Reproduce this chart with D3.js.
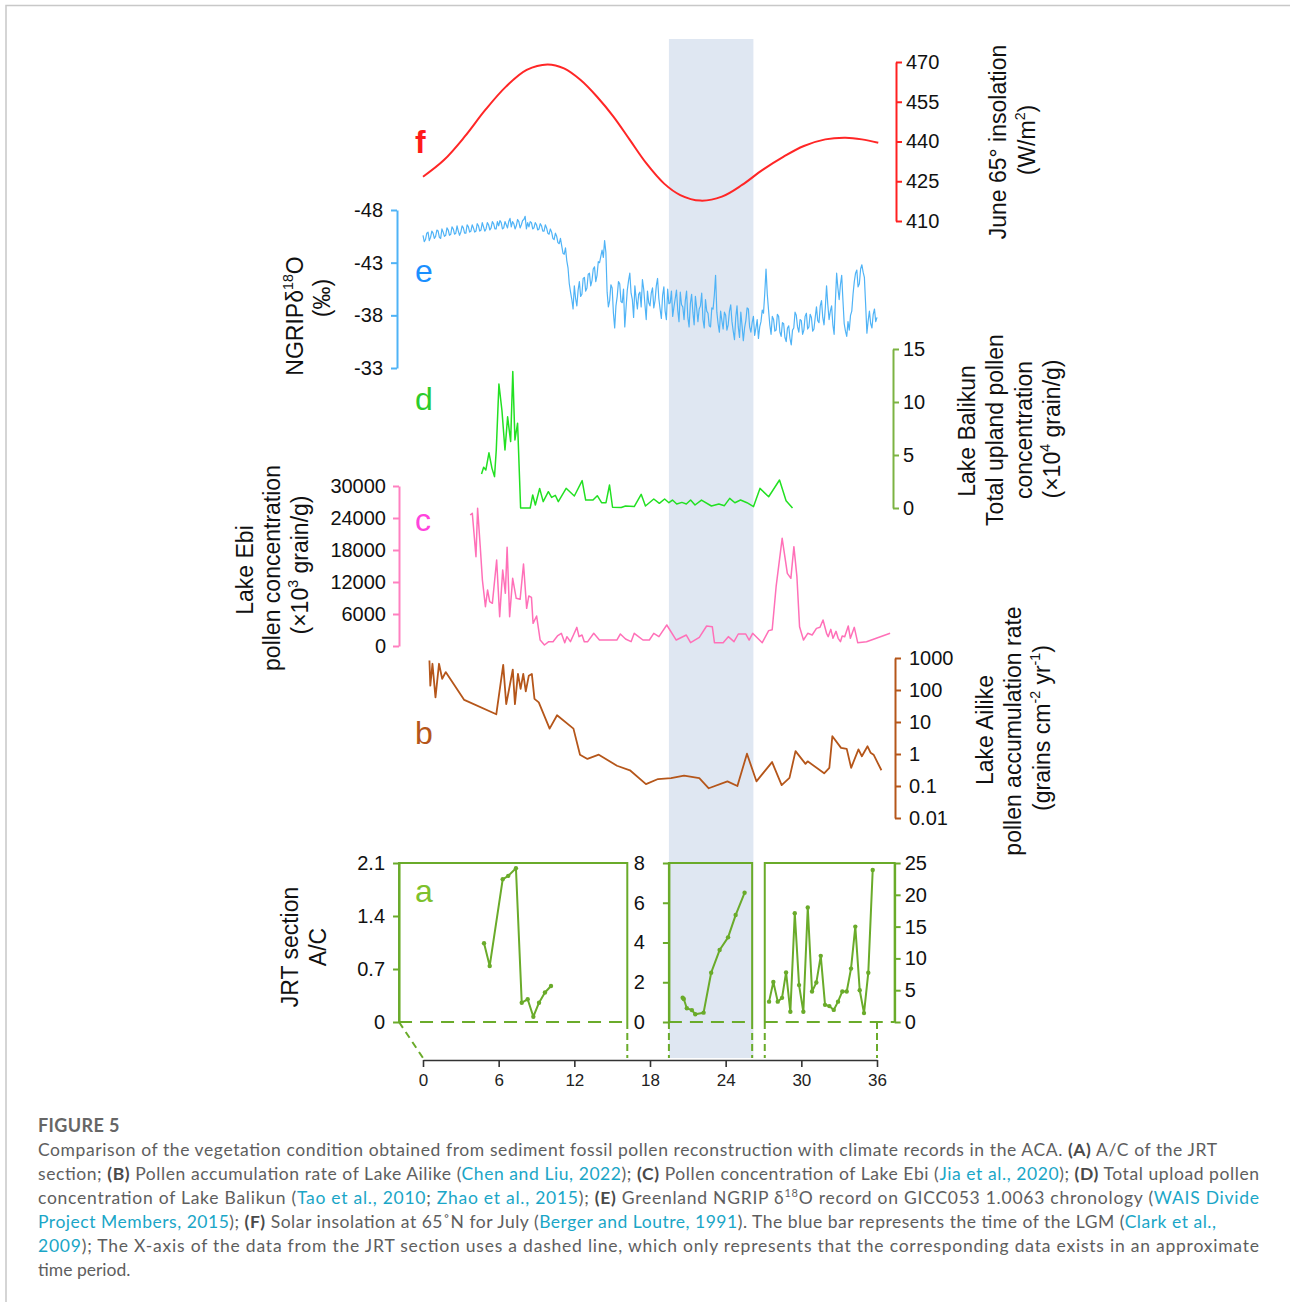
<!DOCTYPE html>
<html>
<head>
<meta charset="utf-8">
<script src="https://cdn.jsdelivr.net/npm/d3@7"></script>
<style>
    body { margin: 0; background: #fff; }
    svg text { font-family: "Liberation Sans", Arial, sans-serif; }
</style>
</head>
<body>
<script>

// ---- values (age in ka BP) ----
let xTicks = [0, 6, 12, 18, 24, 30, 36];
let lgmAge = [19.5, 26.2];

// (f) June 65N insolation, W/m2
let insolAge = [0, 1.66, 3.3, 4.94, 6.58, 8.22, 9.87, 11.18, 12.5, 13.8, 15.1, 16.4, 17.7, 19.1, 20.4, 22.0, 23.7, 25.3, 26.9, 28.6, 30.2, 31.9, 33.5, 34.8, 36.1];
let insolVal = [426.7, 433.0, 441.8, 451.9, 460.7, 467.0, 469.1, 467.6, 463.2, 456.9, 449.4, 440.6, 431.8, 424.2, 419.8, 417.7, 419.2, 423.6, 429.2, 434.3, 438.3, 440.8, 441.4, 440.8, 439.5];
let insolTicks = [410, 425, 440, 455, 470];

// (e) NGRIP d18O, one value every 0.1 ka from 0 ka (one row per ka)
let ngripStep = 0.1;
let ngripVal = [
    -45.6, -45.0, -45.2, -45.8, -45.9, -45.1, -45.4, -46.0, -45.8, -45.3,
    -45.5, -46.1, -46.0, -45.4, -45.3, -46.2, -45.9, -45.5, -45.6, -46.3,
    -46.1, -45.6, -45.7, -46.4, -46.2, -45.7, -45.8, -46.5, -46.0, -45.6,
    -45.9, -46.5, -46.3, -45.8, -45.8, -46.6, -46.4, -45.9, -46.0, -46.6,
    -46.3, -45.9, -46.0, -46.7, -46.5, -46.0, -46.1, -46.8, -46.4, -46.0,
    -46.2, -46.8, -46.6, -46.1, -46.3, -46.9, -46.7, -46.2, -46.2, -46.9,
    -46.5, -47.0, -46.8, -46.2, -46.3, -46.9, -46.6, -46.3, -46.9, -47.2,
    -46.4, -46.9, -46.7, -46.2, -46.5, -47.1, -46.9, -46.3, -46.6, -47.0,
    -47.1, -47.4, -46.2, -46.8, -46.4, -46.9, -46.8, -46.2, -46.3, -46.8,
    -46.6, -46.1, -46.2, -46.7, -46.5, -46.0, -46.0, -46.6, -46.3, -45.8,
    -45.7, -46.2, -45.9, -45.3, -45.2, -45.8, -45.5, -44.9, -44.8, -45.3,
    -44.6, -43.9, -43.8, -44.4, -43.2, -42.5, -41.0, -40.2, -39.5, -38.6,
    -40.8, -39.6, -38.9, -40.4, -41.2, -39.8, -40.0, -41.5, -41.6, -40.3,
    -40.6, -41.9, -42.0, -40.8, -41.3, -42.4, -42.6, -41.2, -41.8, -43.1,
    -43.0, -43.6, -44.2, -43.5, -45.1, -44.0, -40.2, -38.8, -39.4, -40.9,
    -40.6, -38.2, -36.8, -38.9, -39.8, -41.2, -41.0, -39.3, -39.2, -40.5,
    -36.9, -38.7, -40.4, -41.3, -42.0, -40.1, -39.5, -37.8, -40.8, -39.6,
    -38.6, -40.0, -40.2, -38.8, -41.4, -40.5, -39.0, -37.6, -40.3, -39.2,
    -38.9, -40.1, -40.6, -38.7, -39.4, -40.8, -41.5, -39.6, -38.6, -37.7,
    -39.9, -40.7, -38.4, -37.6, -40.5, -39.1, -39.2, -40.3, -37.9, -38.8,
    -39.6, -40.4, -38.5, -37.4, -40.2, -39.0, -38.8, -37.6, -39.4, -40.3,
    -37.8, -36.9, -39.1, -40.0, -38.3, -37.1, -39.8, -38.7, -37.4, -38.6,
    -38.9, -40.1, -37.6, -36.8, -39.5, -38.4, -38.2, -37.0, -36.9, -38.7,
    -38.6, -39.9, -41.8, -38.3, -37.2, -36.4, -38.4, -37.5, -36.7, -38.3,
    -38.0, -36.6, -37.1, -38.4, -39.0, -37.4, -36.5, -35.7, -37.8, -38.9,
    -36.9, -35.9, -38.3, -37.0, -35.6, -36.8, -37.5, -38.7, -38.6, -36.9,
    -36.4, -37.3, -37.9, -36.1, -36.8, -37.6, -35.8, -36.9, -37.4, -38.5,
    -38.2, -40.1, -42.4, -40.0, -38.5, -37.1, -36.2, -37.9, -37.6, -36.5,
    -36.6, -38.1, -37.9, -36.4, -36.0, -37.3, -37.2, -35.9, -35.5, -36.8,
    -37.0, -35.8, -35.2, -36.6, -36.8, -38.3, -38.0, -36.9, -36.4, -37.6,
    -37.5, -36.2, -36.6, -37.9, -38.2, -36.7, -36.9, -38.1, -37.8, -36.5,
    -36.7, -37.8, -38.8, -37.5, -37.3, -38.9, -39.4, -37.8, -37.1, -38.7,
    -40.8, -39.0, -37.6, -38.4, -38.9, -37.1, -36.2, -39.3, -42.0, -40.6,
    -39.5, -40.9, -41.8, -39.4, -37.2, -36.5, -36.0, -37.4, -36.6, -38.0,
    -38.4, -40.0, -41.2, -42.0, -42.3, -40.7, -41.0, -42.4, -42.8, -42.1,
    -41.6, -39.0, -36.3, -37.5, -38.4, -37.2, -36.8, -38.1, -38.6, -37.4,
    -37.8
];
let ngripTicks = [-48, -43, -38, -33];

// (d) Lake Balikun total upland pollen, x10^4 grain/g
let balikunAge = [4.64, 4.81, 4.98, 5.23, 5.47, 5.67, 5.81, 6.02, 6.26, 6.5, 6.71, 6.95, 7.12, 7.29, 7.5, 7.74, 8.5, 8.7, 8.91, 9.25, 9.53, 9.94, 10.2, 10.49, 10.73, 11.35, 12.0, 12.62, 12.9, 13.48, 13.82, 14.16, 14.51, 14.79, 15.03, 15.72, 16.06, 16.75, 17.3, 17.64, 18.3, 18.74, 19.16, 19.5, 19.78, 20.12, 20.53, 20.88, 21.22, 21.57, 22.08, 22.87, 23.46, 23.9, 24.32, 24.73, 25.18, 25.69, 26.21, 26.72, 27.41, 28.27, 28.79, 29.3];
let balikunVal = [3.2, 3.84, 3.58, 5.21, 3.74, 2.96, 5.47, 11.7, 9.2, 5.47, 8.6, 6.27, 12.87, 6.42, 8.0, 0, 0, 1.23, 0.28, 1.85, 0.6, 1.54, 1.0, 1.2, 0.6, 1.86, 1.13, 2.58, 0.75, 0.75, 1.16, 0.5, 0.5, 2.17, 0.07, 0.04, 0.19, 0.13, 1.29, 0.19, 0.85, 0.44, 0.85, 0.5, 0.75, 0.38, 0.53, 0.38, 0.75, 0.28, 0.75, 0.19, 0.38, 0.22, 0.91, 0.5, 0.75, 0.5, 0.13, 1.85, 1.06, 2.64, 0.69, 0.0];
let balikunTicks = [0, 5, 10, 15];

// (c) Lake Ebi pollen concentration, x10^3 grain/g
let ebiAge = [3.74, 3.91, 4.2, 4.33, 4.54, 4.71, 4.95, 5.12, 5.29, 5.5, 5.84, 6.08, 6.32, 6.53, 6.67, 6.87, 7.11, 7.39, 7.7, 7.97, 8.22, 8.39, 8.6, 8.73, 9.01, 9.29, 9.63, 9.97, 10.31, 10.66, 10.97, 11.24, 11.41, 11.69, 11.93, 12.2, 12.37, 12.61, 12.79, 13.06, 13.54, 13.99, 14.67, 15.37, 15.65, 16.06, 16.5, 16.75, 17.09, 17.44, 17.95, 18.3, 18.71, 19.33, 20.08, 20.88, 21.22, 21.91, 22.49, 22.94, 23.11, 23.8, 24.21, 24.66, 25.0, 25.59, 25.86, 26.14, 26.9, 27.41, 27.69, 28.0, 28.48, 28.89, 29.17, 29.41, 29.65, 29.86, 30.17, 30.51, 30.86, 31.2, 31.48, 31.72, 32.0, 32.13, 32.34, 32.51, 32.75, 32.92, 33.1, 33.24, 33.44, 33.72, 33.89, 34.2, 34.47, 35.17, 37.04];
let ebiVal = [24560, 24880, 16750, 25810, 18620, 12380, 7380, 10500, 8310, 8000, 16120, 5500, 14250, 9880, 18500, 5500, 12690, 8940, 8750, 15380, 7060, 9380, 9120, 4250, 5620, 1120, 190, 810, 810, 1880, 2380, 620, 1750, 810, 2060, 3500, 1750, 2060, 810, 810, 2380, 1120, 1120, 1120, 2250, 1310, 810, 2380, 1750, 1120, 1120, 2380, 1750, 3940, 1120, 2060, 620, 1620, 3750, 3620, 620, 620, 1750, 810, 2250, 2250, 1120, 2380, 620, 2880, 3060, 11120, 20190, 13620, 12690, 18620, 13000, 3620, 1120, 2380, 2060, 3310, 3500, 4880, 2380, 1750, 3120, 1440, 2750, 1440, 810, 1880, 1750, 3750, 1440, 3500, 620, 810, 2380];
let ebiTicks = [0, 6000, 12000, 18000, 24000, 30000];

// (b) Lake Ailike pollen accumulation rate, grains cm-2 yr-1
let ailikeAge = [0.51, 0.58, 0.75, 0.99, 1.27, 1.52, 1.8, 3.27, 5.81, 6.36, 6.6, 7.12, 7.29, 7.53, 7.74, 7.95, 8.15, 8.39, 8.63, 8.84, 9.18, 10.04, 10.63, 11.93, 12.45, 13.04, 13.94, 15.38, 16.41, 17.68, 18.64, 19.67, 20.7, 21.91, 22.66, 24.14, 24.93, 25.69, 26.44, 27.68, 28.44, 29.06, 29.54, 30.33, 30.5, 31.81, 32.22, 32.46, 33.15, 33.6, 33.95, 34.53, 34.8, 35.25, 35.49, 35.73, 36.35];
let ailikeVal = [840, 137, 660, 59, 660, 224, 363, 49, 17.4, 612, 36, 436, 36, 318, 108, 318, 91, 280, 318, 53, 41, 6.2, 16.2, 6.2, 0.95, 0.7, 0.95, 0.43, 0.31, 0.115, 0.165, 0.175, 0.21, 0.175, 0.085, 0.14, 0.1, 1.02, 0.14, 0.56, 0.107, 0.18, 1.23, 0.49, 0.59, 0.25, 0.37, 3.6, 1.55, 1.45, 0.37, 1.4, 0.85, 1.74, 1.1, 0.95, 0.31];
let ailikeTicks = [0.01, 0.1, 1, 10, 100, 1000];

// (a) JRT section A/C, three broken panels
let jrtAge1 = [4.84, 5.29, 6.32, 6.76, 7.37, 7.83, 8.3, 8.75, 9.2, 9.67, 10.15];
let jrtVal1 = [1.04, 0.74, 1.885, 1.93, 2.03, 0.255, 0.30, 0.07, 0.255, 0.39, 0.475];
let jrtAge2 = [20.59, 20.68, 20.92, 21.32, 21.59, 22.25, 22.85, 23.52, 24.19, 24.79, 25.5];
let jrtVal2 = [1.22, 1.16, 0.69, 0.6, 0.39, 0.47, 2.48, 3.62, 4.26, 5.38, 6.5];
let jrtAge3 = [27.44, 27.78, 28.13, 28.47, 28.79, 29.13, 29.48, 29.82, 30.16, 30.51, 30.85, 31.19, 31.54, 31.88, 32.22, 32.57, 32.91, 33.25, 33.6, 33.94, 34.28, 34.63, 34.97, 35.31, 35.66];
let jrtVal3 = [3.2, 6.3, 3.2, 3.8, 7.8, 1.6, 17.1, 5.8, 1.6, 18.0, 4.8, 6.2, 10.4, 2.7, 2.5, 1.9, 3.2, 4.8, 4.8, 8.4, 15.0, 5.0, 1.4, 7.75, 23.9];
let jrtTicks1 = [0, 0.7, 1.4, 2.1];
let jrtTicks2 = [0, 2, 4, 6, 8];
let jrtTicks3 = [0, 5, 10, 15, 20, 25];
// age span covered by each broken panel, and the ages the dashed guides drop to
let jrtSpan = [[-1.9, 16.2], [19.5, 26.1], [27.1, 37.4]];
let jrtGuides = [16.2, 19.5, 26.1, 27.1, 36];

// ---- drawing ----
let width = 1290,
    height = 1302;

let svg = d3.select("body").append("svg")
    .attr("width", width)
    .attr("height", height);

let x = d3.scaleLinear()
    .domain([0, 36])
    .range([423, 877]);

let fontSans = "Liberation Sans, Arial, sans-serif";
let plain = function (d) { return String(d); };

// page frame
svg.append("path")
    .attr("d", "M6,1302V5.5H1290")
    .attr("fill", "none")
    .attr("stroke", "#c8c8c8")
    .attr("stroke-width", 1.5);

// LGM band
svg.append("rect")
    .attr("x", x(lgmAge[0]))
    .attr("y", 39)
    .attr("width", x(lgmAge[1]) - x(lgmAge[0]))
    .attr("height", 1058 - 39)
    .attr("fill", "#dfe7f2");

function drawAxis(axis, xPos, color, pad) {
    let g = svg.append("g")
        .attr("transform", "translate(" + xPos + ",0)")
        .call(axis.tickSize(6).tickSizeOuter(0).tickPadding(pad));
    g.attr("font-size", 20).attr("font-family", fontSans);
    g.select(".domain").attr("stroke", color).attr("stroke-width", 2);
    g.selectAll(".tick line").attr("stroke", color).attr("stroke-width", 2);
    g.selectAll(".tick text").attr("fill", "#111");
    return g;
}

function drawLine(ages, vals, y, color, w, curve) {
    let line = d3.line()
        .x(function (d) { return x(d[0]); })
        .y(function (d) { return y(d[1]); });
    if (curve) line.curve(curve);
    svg.append("path")
        .datum(d3.zip(ages, vals))
        .attr("fill", "none")
        .attr("stroke", color)
        .attr("stroke-width", w)
        .attr("stroke-linejoin", "round")
        .attr("d", line);
}

function letter(txt, px, py, color, bold) {
    svg.append("text")
        .attr("x", px)
        .attr("y", py)
        .attr("fill", color)
        .style("font-size", "32px")
        .style("font-weight", bold ? "bold" : "normal")
        .text(txt);
}

// rotated axis title; parts: strings, or [string] for a superscript
function vText(px, py, parts, size) {
    let t = svg.append("text")
        .attr("transform", "translate(" + px + "," + py + ") rotate(-90)")
        .attr("text-anchor", "middle")
        .attr("dy", "0.35em")
        .attr("fill", "#111")
        .style("font-size", size + "px");
    let raised = false;
    parts.forEach(function (p) {
        let s = t.append("tspan");
        if (Array.isArray(p)) {
            s.text(p[0]).style("font-size", (size * 0.62) + "px");
            if (!raised) s.attr("dy", -size * 0.42);
            raised = true;
        } else {
            s.text(p);
            if (raised) s.attr("dy", size * 0.42);
            raised = false;
        }
    });
}

// (f) insolation
let yF = d3.scaleLinear().domain([410, 470]).range([221, 62]);
drawAxis(d3.axisRight(yF).tickValues(insolTicks).tickFormat(plain), 896, "#ff2020", 4);
drawLine(insolAge, insolVal, yF, "#ff2626", 2, d3.curveCatmullRom);
letter("f", 415, 153, "#ff1a1a", true);
vText(998, 142, ["June 65° insolation"], 23);
vText(1027, 140, ["(W/m", ["2"], ")"], 23);

// (e) NGRIP
let yE = d3.scaleLinear().domain([-48, -33]).range([210, 368]);
drawAxis(d3.axisLeft(yE).tickValues(ngripTicks).tickFormat(plain), 397, "#4fb3f6", 8);
drawLine(ngripVal.map(function (v, i) { return i * ngripStep; }), ngripVal, yE, "#4fb3f6", 1.2);
letter("e", 415, 282, "#1a8fff");
vText(295, 316, ["NGRIPδ", ["18"], "O"], 23);
vText(322, 298, ["(‰)"], 23);

// (d) Lake Balikun
let yD = d3.scaleLinear().domain([0, 15]).range([508, 349]);
drawAxis(d3.axisRight(yD).tickValues(balikunTicks).tickFormat(plain), 893, "#7cb342", 4);
drawLine(balikunAge, balikunVal, yD, "#22e022", 1.5);
letter("d", 415, 410, "#2ccc2c");
vText(967, 431, ["Lake Balikun"], 23);
vText(995, 430, ["Total upland pollen"], 23);
vText(1024, 430, ["concentration"], 23);
vText(1052, 429, ["(×10", ["4"], " grain/g)"], 23);

// (c) Lake Ebi
let yC = d3.scaleLinear().domain([0, 30000]).range([646, 486]);
drawAxis(d3.axisLeft(yC).tickValues(ebiTicks).tickFormat(plain), 399, "#ff80c0", 7);
drawLine(ebiAge, ebiVal, yC, "#ff70b8", 1.5);
letter("c", 415, 531, "#ff44dd");
vText(245, 570, ["Lake Ebi"], 23);
vText(272, 568, ["pollen concentration"], 23);
vText(300, 565, ["(×10", ["3"], " grain/g)"], 23);

// (b) Lake Ailike, log scale
let yB = d3.scaleLog().domain([0.01, 1000]).range([818, 658]);
drawAxis(d3.axisRight(yB).tickValues(ailikeTicks).tickFormat(plain), 895, "#b5561a", 8);
drawLine(ailikeAge, ailikeVal, yB, "#b5561a", 1.8);
letter("b", 415, 744, "#b5561a");
vText(985, 730, ["Lake Ailike"], 23);
vText(1013, 731, ["pollen accumulation rate"], 23);
vText(1042, 728, ["(grains cm", ["-2"], " yr", ["-1"], ")"], 23);

// (a) JRT section, three broken panels
let aTop = 863, aBot = 1022, aDrop = 1058;
let olive = "#6aab2a";
let jrtAges = [jrtAge1, jrtAge2, jrtAge3];
let jrtVals = [jrtVal1, jrtVal2, jrtVal3];
let jrtTicks = [jrtTicks1, jrtTicks2, jrtTicks3];

jrtSpan.forEach(function (span, i) {
    let ticks = jrtTicks[i];
    let y = d3.scaleLinear().domain([0, d3.max(ticks)]).range([aBot, aTop]);
    let x0 = x(span[0]), x1 = x(span[1]);

    svg.append("path")
        .attr("d", "M" + x0 + "," + aBot + "V" + aTop + "H" + x1 + "V" + aBot)
        .attr("fill", "none")
        .attr("stroke", olive)
        .attr("stroke-width", 2);
    svg.append("line")
        .attr("x1", x0).attr("x2", x1)
        .attr("y1", aBot).attr("y2", aBot)
        .attr("stroke", olive)
        .attr("stroke-width", 2)
        .attr("stroke-dasharray", "13,8");

    let fmt = function (d) { return d === 0 ? "0" : (i === 0 ? d.toFixed(1) : String(d)); };
    if (i === 0) drawAxis(d3.axisLeft(y).tickValues(ticks).tickFormat(fmt), x0, olive, 8);
    if (i === 1) drawAxis(d3.axisLeft(y).tickValues(ticks).tickFormat(fmt), x0, olive, 18);
    if (i === 2) drawAxis(d3.axisRight(y).tickValues(ticks).tickFormat(fmt), x1, olive, 4);

    drawLine(jrtAges[i], jrtVals[i], y, olive, 2);
    svg.append("g").selectAll("circle")
        .data(d3.zip(jrtAges[i], jrtVals[i]))
        .join("circle")
        .attr("cx", function (d) { return x(d[0]); })
        .attr("cy", function (d) { return y(d[1]); })
        .attr("r", 2.2)
        .attr("fill", olive);
});

// dashed guides from the panels down to the age axis
jrtGuides.forEach(function (a) {
    svg.append("line")
        .attr("x1", x(a)).attr("x2", x(a))
        .attr("y1", aBot).attr("y2", aDrop)
        .attr("stroke", olive)
        .attr("stroke-width", 2)
        .attr("stroke-dasharray", "7,4");
});
svg.append("line")
    .attr("x1", x(jrtSpan[0][0])).attr("y1", aBot)
    .attr("x2", x(0)).attr("y2", aDrop)
    .attr("stroke", olive)
    .attr("stroke-width", 2)
    .attr("stroke-dasharray", "7,5");

letter("a", 415, 902, "#7dc12c");
vText(290, 947, ["JRT section"], 23);
vText(318, 947, ["A/C"], 23);

// age axis
let xAxisG = svg.append("g")
    .attr("transform", "translate(0,1060)")
    .call(d3.axisBottom(x).tickValues(xTicks).tickSize(7).tickSizeOuter(0).tickPadding(7));
xAxisG.attr("font-size", 17).attr("font-family", "Liberation Serif, Times New Roman, serif");
xAxisG.select(".domain").attr("stroke", "#333").attr("stroke-width", 1.6);
xAxisG.selectAll(".tick line").attr("stroke", "#333").attr("stroke-width", 1.6);
xAxisG.selectAll(".tick text").attr("fill", "#222");

// ---- caption ----
let captionLines = [
    [["Comparison of the vegetation condition obtained from sediment fossil pollen reconstruction with climate records in the ACA. "], ["(A)", "b"], [" A/C of the JRT"]],
    [["section; "], ["(B)", "b"], [" Pollen accumulation rate of Lake Ailike ("], ["Chen and Liu, 2022", "l"], ["); "], ["(C)", "b"], [" Pollen concentration of Lake Ebi ("], ["Jia et al., 2020", "l"], ["); "], ["(D)", "b"], [" Total upload pollen"]],
    [["concentration of Lake Balikun ("], ["Tao et al., 2010", "l"], ["; "], ["Zhao et al., 2015", "l"], ["); "], ["(E)", "b"], [" Greenland NGRIP δ"], ["18", "s"], ["O record on GICC053 1.0063 chronology ("], ["WAIS Divide", "l"]],
    [["Project Members, 2015", "l"], ["); "], ["(F)", "b"], [" Solar insolation at 65˚N for July ("], ["Berger and Loutre, 1991", "l"], ["). The blue bar represents the time of the LGM ("], ["Clark et al.,", "l"]],
    [["2009", "l"], ["); The X-axis of the data from the JRT section uses a dashed line, which only represents that the corresponding data exists in an approximate"]],
    [["time period."]]
];
let captionWidths = [1179, 1221, 1221, 1178, 1221, 0];

svg.append("text")
    .attr("x", 38)
    .attr("y", 1132)
    .attr("fill", "#666")
    .style("font-family", "Lato, Open Sans, sans-serif")
    .style("font-size", "18px")
    .style("font-weight", "bold")
    .style("letter-spacing", "0.4px")
    .text("FIGURE 5");

captionLines.forEach(function (segs, i) {
    let t = svg.append("text")
        .attr("x", 38)
        .attr("y", 1156 + i * 24)
        .attr("fill", "#5e5e5e")
        .style("font-family", "Lato, Open Sans, sans-serif")
        .style("font-size", "17.5px");
    if (captionWidths[i]) t.attr("textLength", captionWidths[i]).attr("lengthAdjust", "spacing");
    let raised = false;
    segs.forEach(function (s) {
        let sp = t.append("tspan").text(s[0]);
        if (s[1] === "b") sp.style("font-weight", "bold").attr("fill", "#4a4a4a");
        if (s[1] === "l") sp.attr("fill", "#1aa6c7");
        if (s[1] === "s") {
            sp.style("font-size", "11px").attr("dy", -7);
            raised = true;
        } else if (raised) {
            sp.attr("dy", 7);
            raised = false;
        }
    });
});

</script>
</body>
</html>
